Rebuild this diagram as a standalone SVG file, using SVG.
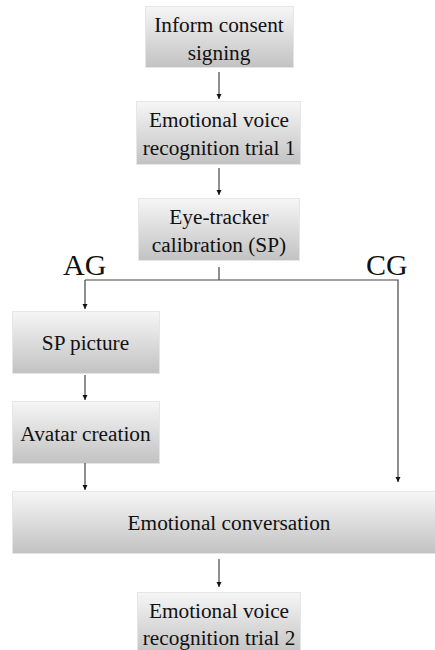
<svg xmlns="http://www.w3.org/2000/svg" width="435" height="650" viewBox="0 0 435 650">
<defs>
<linearGradient id="g" x1="0" y1="0" x2="0" y2="1">
<stop offset="0" stop-color="#f6f6f6"/>
<stop offset="1" stop-color="#c2c2c2"/>
</linearGradient>
<marker id="ah" markerWidth="6" markerHeight="6" refX="5" refY="3" orient="auto" markerUnits="userSpaceOnUse">
<path d="M0,0.5 L5,3 L0,5.5 Z" fill="#111"/>
</marker>
<style>
.box{fill:url(#g);stroke:#e6e6e6;stroke-width:1}
.t{font-family:"Liberation Serif","DejaVu Serif",serif;font-size:21.3px;fill:#111;text-anchor:middle}
.lbl{font-family:"Liberation Serif","DejaVu Serif",serif;font-size:30px;fill:#111}
.c{stroke:#444;stroke-width:1.2;fill:none}
</style>
</defs>
<rect width="435" height="650" fill="#fff"/>
<g id="n1"><rect class="box" x="145.5" y="6.5" width="148" height="61"/><text class="t" x="219" y="32">Inform consent</text><text class="t" x="219" y="60">signing</text></g>
<g id="n2"><rect class="box" x="136.5" y="101.5" width="164" height="63"/><text class="t" x="219" y="127">Emotional voice</text><text class="t" x="219" y="155">recognition trial 1</text></g>
<g id="n3"><rect class="box" x="138.5" y="198.5" width="161" height="62"/><text class="t" x="219" y="224">Eye-tracker</text><text class="t" x="219" y="252">calibration (SP)</text></g>
<g id="n4"><rect class="box" x="12.5" y="311.5" width="147" height="62"/><text class="t" x="85.5" y="350">SP picture</text></g>
<g id="n5"><rect class="box" x="12.5" y="401.5" width="147" height="62"/><text class="t" x="85.5" y="441">Avatar creation</text></g>
<g id="n6"><rect class="box" x="12.5" y="491.5" width="424" height="62"/><text class="t" x="229" y="530">Emotional conversation</text></g>
<g id="n7"><rect class="box" x="137.5" y="592.5" width="163" height="62"/><text class="t" x="219" y="618">Emotional voice</text><text class="t" x="219" y="645">recognition trial 2</text></g>
<g id="labels"><text class="lbl" x="63" y="275">AG</text><text class="lbl" x="366" y="275">CG</text></g>
<g id="connectors">
<line class="c" x1="219" y1="72" x2="219" y2="99" marker-end="url(#ah)"/>
<line class="c" x1="219" y1="168" x2="219" y2="195" marker-end="url(#ah)"/>
<line class="c" x1="219" y1="267" x2="219" y2="280"/>
<path class="c" d="M85,280 H398 V482" marker-end="url(#ah)"/>
<line class="c" x1="85" y1="280" x2="85" y2="309" marker-end="url(#ah)"/>
<line class="c" x1="85" y1="375" x2="85" y2="400" marker-end="url(#ah)"/>
<line class="c" x1="85" y1="463" x2="85" y2="490" marker-end="url(#ah)"/>
<line class="c" x1="219" y1="559" x2="219" y2="587" marker-end="url(#ah)"/>
</g>
</svg>
